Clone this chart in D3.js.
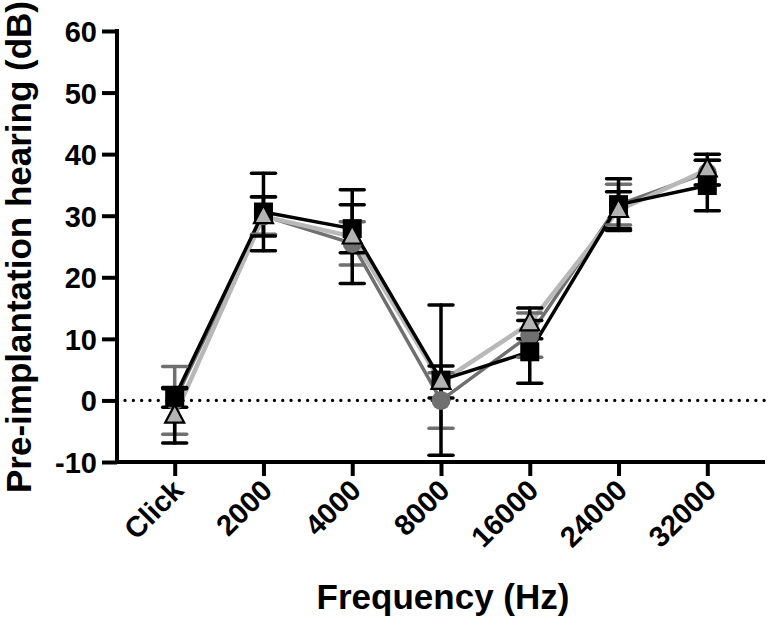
<!DOCTYPE html>
<html><head><meta charset="utf-8">
<script src="https://cdn.jsdelivr.net/npm/d3@7"></script>
<style>body{margin:0;background:#fff}svg{display:block}text{font-family:"Liberation Sans",Arial,sans-serif;font-weight:bold}</style>
</head><body>
<svg id="c" width="771" height="629"></svg>
<script>
const categories = ["Click","2000","4000","8000","16000","24000","32000"];
const yTicks = [-10,0,10,20,30,40,50,60];
// series: mean and error (SEM)
const circleMean = [0, 30, 25.5, 0, 10.6, 31.8, 37];
const circleErr  = [5.5, 3, 3.5, 4.5, 3.6, 3.3, 2];
const squareMean = [0.5, 30.6, 27.9, 3.3, 7.9, 31.8, 34.9];
const squareErr  = [1.6, 6.3, 3.9, 12.2, 5.1, 4.2, 4.1];
const triMean    = [-2.5, 29.9, 26.6, 3, 12.5, 30.9, 37.5];
const triErr     = [4.4, 3.2, 7.6, 2.6, 2.5, 3.0, 2.5];

(function(){
const svg = d3.select("#c");
const L = 117, R = 765, T = 31, B = 462;
const x = d3.scalePoint().domain(categories).range([L, R]).padding(0.65);
const y = d3.scaleLinear().domain([-10, 60]).range([B, T]);

// zero dotted line
svg.append("line").attr("x1", L + 8).attr("x2", R).attr("y1", y(0)).attr("y2", y(0))
  .attr("stroke", "#000").attr("stroke-width", 3.2).attr("stroke-linecap", "round").attr("stroke-dasharray", "0.1,8.2");

const series = [
  {mean: circleMean, err: circleErr, line: "#6f6f6f", lw: 3.5, ebar: "#6f6f6f", shape: "circle"},
  {mean: triMean, err: triErr, line: "#b8b8b8", lw: 4.5, ebar: "#000", shape: "tri"},
  {mean: squareMean, err: squareErr, line: "#000", lw: 3.5, ebar: "#000", shape: "square"}
];
const line = d3.line().x((d,i) => x(categories[i])).y(d => y(d));
series.forEach(s => {
  svg.append("path").attr("d", line(s.mean)).attr("fill", "none").attr("stroke", s.line).attr("stroke-width", s.lw).attr("stroke-linejoin", "round");
});
const cap = 12;
series.forEach(s => {
  const g = svg.append("g").attr("stroke", s.ebar).attr("stroke-width", 3.5).attr("stroke-linecap", "round");
  s.mean.forEach((m, i) => {
    const cx = x(categories[i]);
    g.append("line").attr("x1", cx).attr("x2", cx).attr("y1", y(m - s.err[i])).attr("y2", y(m + s.err[i]));
    [m - s.err[i], m + s.err[i]].forEach(v => {
      g.append("line").attr("x1", cx - cap).attr("x2", cx + cap).attr("y1", y(v)).attr("y2", y(v));
    });
  });
});
series.forEach(s => {
  s.mean.forEach((m, i) => {
    const cx = x(categories[i]), cy = y(m);
    if (s.shape === "circle") {
      svg.append("circle").attr("cx", cx).attr("cy", cy).attr("r", 9.5).attr("fill", "#6f6f6f");
    } else if (s.shape === "square") {
      svg.append("rect").attr("x", cx - 9.5).attr("y", cy - 9.5).attr("width", 19).attr("height", 19).attr("fill", "#000");
    }
  });
});
series.filter(s => s.shape === "tri").forEach(s => {
  s.mean.forEach((m, i) => {
    const cx = x(categories[i]), cy = y(m);
    const h = 18, w = 19;
    svg.append("path").attr("d", `M${cx},${cy - h*0.62}L${cx + w/2},${cy + h*0.38}L${cx - w/2},${cy + h*0.38}Z`)
      .attr("fill", "#b3b3b3").attr("stroke", "#000").attr("stroke-width", 2.2).attr("stroke-linejoin", "miter");
  });
});

const yAxis = svg.append("g").attr("transform", `translate(${L},0)`)
  .call(d3.axisLeft(y).tickValues(yTicks).tickFormat(d => String(d)).tickSize(15).tickSizeOuter(0).tickPadding(5));
const xAxis = svg.append("g").attr("transform", `translate(0,${B})`)
  .call(d3.axisBottom(x).tickSize(14).tickSizeOuter(0));
[yAxis, xAxis].forEach(a => {
  a.select(".domain").attr("stroke", "#000").attr("stroke-width", 4);
  a.selectAll(".tick line").attr("stroke", "#000").attr("stroke-width", 4);
  a.selectAll("text").attr("fill", "#000").style("font-size", "29px").style("font-weight", "bold");
});
yAxis.selectAll("text").attr("dy", "0.36em");
yAxis.select(".domain").attr("d", `M0,${T - 2}V${B + 2}`);
xAxis.select(".domain").attr("d", `M${L - 2},0H${R}`);
xAxis.selectAll("text").attr("text-anchor", "end").attr("dy", null).attr("y", 0)
  .attr("transform", "translate(10,30) rotate(-45)");

svg.append("text").attr("transform", `translate(31,247) rotate(-90)`)
  .attr("text-anchor", "middle").style("font-size", "35px").text("Pre-implantation hearing (dB)");
svg.append("text").attr("x", 443).attr("y", 609).attr("text-anchor", "middle").style("font-size", "35px").text("Frequency (Hz)");
})();
</script>
</body></html>
